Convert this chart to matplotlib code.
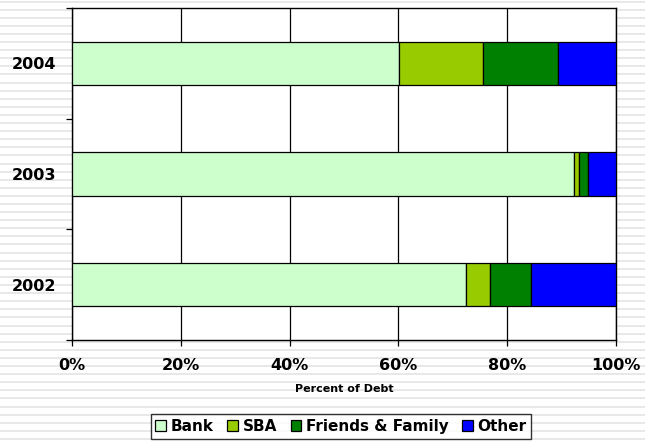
import matplotlib
matplotlib.use('Agg')
import matplotlib.pyplot as plt
from matplotlib.lines import Line2D
import numpy as np

# 数据
years = ['2002', '2003', '2004']
bank = [72.5, 92.2, 60.1]
sba = [4.4, 1.0, 15.5]
friends_family = [7.4, 1.7, 13.8]
other = [15.7, 5.1, 10.6]

series_names = ['Bank', 'SBA', 'Friends & Family', 'Other']
series_colors = ['#CCFFCC', '#99CC00', '#008000', '#0000FF']

plt.rcParams['font.family'] = 'DejaVu Sans'
plt.rcParams['font.weight'] = 'bold'

W, H = 645, 441
fig = plt.figure(figsize=(W / 100, H / 100), dpi=100)
fig.patch.set_facecolor('white')

# 背景横纹
for yp in np.arange(1.5, H, 8.1):
    fig.add_artist(Line2D([0, 1], [1 - yp / H, 1 - yp / H], transform=fig.transFigure,
                          color='#e6e6e6', lw=1.3, zorder=0))

ax = fig.add_axes([72 / W, 1 - 340 / H, (616 - 72) / W, (340 - 8) / H])
ax.set_facecolor('white')

y = np.arange(len(years))
left = np.zeros(len(years))
for vals, name, col in zip([bank, sba, friends_family, other], series_names, series_colors):
    ax.barh(y, vals, left=left, height=0.39, color=col, edgecolor='black',
            linewidth=0.9, label=name, zorder=3)
    left += np.array(vals)

ax.set_xlim(0, 100)
ax.set_ylim(-0.5, 2.5)
ax.set_xticks(np.arange(0, 101, 20))
ax.set_xticklabels([f'{v}%' for v in range(0, 101, 20)], fontsize=11.5, fontweight='bold')
ax.set_yticks(y)
ax.set_yticklabels(years, fontsize=11.5, fontweight='bold')
ax.set_yticks([-0.5, 0.5, 1.5, 2.5], minor=True)
ax.tick_params(axis='y', which='major', length=0, pad=11)
ax.tick_params(axis='y', which='minor', length=4, width=0.9, direction='out')
ax.tick_params(axis='x', length=4, width=0.9, direction='out', pad=9)
ax.xaxis.grid(True, color='black', linewidth=0.9, zorder=1)
ax.set_axisbelow(True)
for s in ax.spines.values():
    s.set_color('black')
    s.set_linewidth(1.0)
ax.set_xlabel('Percent of Debt', fontsize=8, fontweight='bold', labelpad=8)

leg = fig.legend(loc='center', bbox_to_anchor=(341 / W, 1 - 426.5 / H), ncol=4,
                 fontsize=11, frameon=True, fancybox=False, edgecolor='black',
                 handlelength=0.7, handleheight=0.7, handletextpad=0.3,
                 columnspacing=0.9, borderpad=0.3, borderaxespad=0)
leg.get_frame().set_linewidth(1.0)
for t in leg.get_texts():
    t.set_fontweight('bold')

fig.savefig('out.png', dpi=100, facecolor='white')
